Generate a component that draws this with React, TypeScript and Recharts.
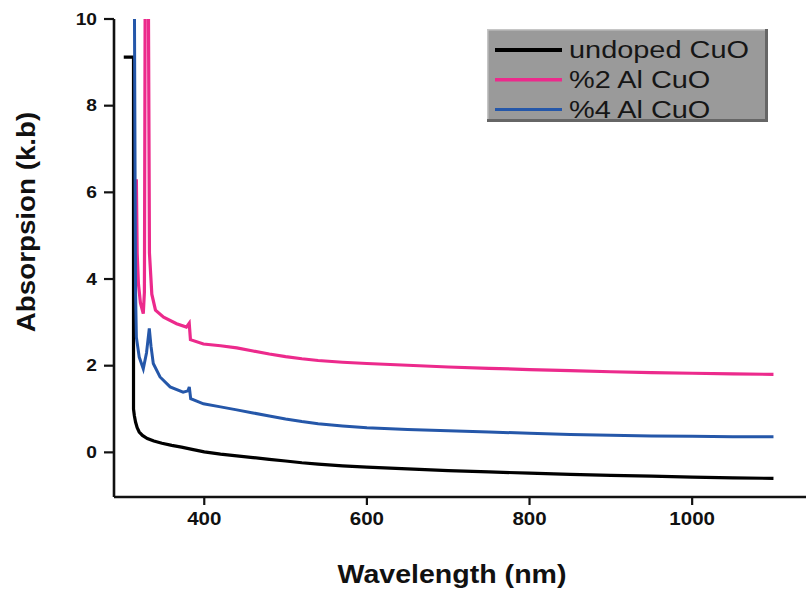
import React from "react";
import { LineChart, Line, XAxis, YAxis, Legend, Label } from "recharts";

// ---- data (wavelength nm, absorption) ----
const undopedWl = [301, 313, 313, 314, 315.5, 317.5, 320, 324, 330, 338, 348, 360, 372, 385, 400, 420, 440, 460, 480, 500, 520, 540, 570, 600, 650, 700, 750, 800, 850, 900, 950, 1000, 1050, 1100];
const undopedAbs = [9.12, 9.12, 1.0, 0.85, 0.7, 0.57, 0.47, 0.39, 0.32, 0.26, 0.21, 0.16, 0.12, 0.07, 0.01, -0.04, -0.08, -0.12, -0.16, -0.2, -0.24, -0.27, -0.31, -0.34, -0.38, -0.42, -0.45, -0.48, -0.51, -0.53, -0.55, -0.57, -0.59, -0.6];

const al2Wl = [316.5, 317.5, 319, 321.5, 325, 326.4, 327.4, 331.2, 332.6, 335.5, 340, 350, 366, 378, 381.5, 383, 399, 420, 440, 460, 480, 500, 520, 540, 570, 600, 650, 700, 750, 800, 850, 900, 950, 1000, 1050, 1100];
const al2Abs = [6.3, 4.6, 3.9, 3.45, 3.2, 3.7, 11, 11, 4.6, 3.65, 3.28, 3.12, 2.97, 2.89, 2.98, 2.6, 2.5, 2.46, 2.41, 2.34, 2.27, 2.21, 2.16, 2.12, 2.08, 2.05, 2.01, 1.97, 1.94, 1.91, 1.885, 1.86, 1.84, 1.825, 1.81, 1.8];

const al4Wl = [314, 315, 315.5, 316.5, 320, 325, 329, 332.4, 334.5, 337.3, 345.6, 358, 374, 380, 381.6, 383.3, 399, 420, 440, 460, 480, 500, 520, 540, 570, 600, 650, 700, 750, 800, 850, 900, 950, 1000, 1050, 1100];
const al4Abs = [11, 6, 3.7, 2.66, 2.2, 1.93, 2.3, 2.86, 2.45, 2.05, 1.74, 1.51, 1.39, 1.42, 1.51, 1.24, 1.12, 1.05, 0.98, 0.91, 0.84, 0.77, 0.71, 0.66, 0.61, 0.57, 0.53, 0.5, 0.47, 0.44, 0.415, 0.395, 0.38, 0.37, 0.36, 0.36];

const seriesNames = ["undoped CuO", "%2 Al CuO", "%4 Al CuO"];
const seriesColors = ["#000000", "#ec2a8c", "#2557a9"];
const xTicks = [400, 600, 800, 1000];
const yTicks = [0, 2, 4, 6, 8, 10];
const xTitle = "Wavelength (nm)";
const yTitle = "Absorpsion (k.b)";

const zip = (xs: number[], ys: number[]) => xs.map((x, i) => ({ x, y: ys[i] }));
const undopedData = zip(undopedWl, undopedAbs);
const al2Data = zip(al2Wl, al2Abs);
const al4Data = zip(al4Wl, al4Abs);

const FONT = "'Liberation Sans', Arial, Helvetica, sans-serif";

const YTick = (props: any) => {
  const { x, y, payload } = props;
  return (
    <text
      transform={`translate(${x},${y}) scale(1.2,1)`}
      textAnchor="end"
      dy="0.36em"
      fontSize={16}
      fontWeight={700}
      fontFamily={FONT}
      fill="#111"
    >
      {payload.value}
    </text>
  );
};

const XTick = (props: any) => {
  const { x, y, payload } = props;
  return (
    <text
      transform={`translate(${x},${y}) scale(1.11,1)`}
      textAnchor="middle"
      dy="0.71em"
      fontSize={18.5}
      fontWeight={700}
      fontFamily={FONT}
      fill="#111"
    >
      {payload.value}
    </text>
  );
};

const XTitle = () => (
  <text
    transform={`translate(452,583) scale(1.12,1)`}
    textAnchor="middle"
    fontSize={25.5}
    fontWeight={700}
    fontFamily={FONT}
    fill="#111"
  >
    {xTitle}
  </text>
);

const YTitle = () => (
  <text
    transform={`translate(35,222) rotate(-90) scale(1.11,1)`}
    textAnchor="middle"
    fontSize={25}
    fontWeight={700}
    fontFamily={FONT}
    fill="#111"
  >
    {yTitle}
  </text>
);

const LegendBox = (props: any) => {
  const payload = [...(props.payload || [])].sort(
    (a: any, b: any) => seriesNames.indexOf(a.value) - seriesNames.indexOf(b.value)
  );
  const widths = [4, 3.5, 3];
  return (
    <svg width={281} height={93} style={{ display: "block" }}>
      <rect x={0} y={0} width={281} height={93} fill="#9a9a9a" />
      <rect x={0} y={0} width={281} height={1.5} fill="#c6c6c6" />
      <rect x={0} y={0} width={1.5} height={93} fill="#c6c6c6" />
      <rect x={278} y={0} width={3} height={93} fill="#666" />
      <rect x={0} y={90} width={281} height={3} fill="#666" />
      {payload.map((p: any, i: number) => {
        const ly = 21 + i * 29.7;
        return (
          <g key={i}>
            <line x1={8} x2={75} y1={ly} y2={ly} stroke={p.color} strokeWidth={widths[i]} />
            <text
              transform={`translate(82,${ly + 8.4}) scale(1.18,1)`}
              fontSize={24.5}
              fontFamily={FONT}
              fill="#161616"
            >
              {p.value}
            </text>
          </g>
        );
      })}
    </svg>
  );
};

export default function App() {
  return (
    <div style={{ position: "absolute", left: 0, top: 0, width: 807, height: 589, background: "#fff" }}>
      <LineChart width={807} height={589} margin={{ top: 19, right: 1, left: 0, bottom: 52 }}>
        <XAxis
          dataKey="x"
          type="number"
          domain={[289, 1140]}
          ticks={xTicks}
          allowDataOverflow
          height={40}
          tickSize={8}
          tickMargin={7}
          tick={<XTick />}
          axisLine={{ stroke: "#111", strokeWidth: 2.6 }}
          tickLine={{ stroke: "#111", strokeWidth: 2.2 }}
        >
          <Label content={<XTitle />} />
        </XAxis>
        <YAxis
          type="number"
          domain={[-1.03, 10]}
          ticks={yTicks}
          allowDataOverflow
          width={114}
          tickSize={10}
          tickMargin={7}
          tick={<YTick />}
          axisLine={{ stroke: "#111", strokeWidth: 2.6 }}
          tickLine={{ stroke: "#111", strokeWidth: 2.2 }}
        >
          <Label content={<YTitle />} />
        </YAxis>
        <Legend
          layout="vertical"
          align="center"
          verticalAlign="middle"
          content={<LegendBox />}
          wrapperStyle={{ position: "absolute", left: 487, top: 29, width: 281, height: 93 }}
        />
        <Line
          data={undopedData}
          dataKey="y"
          name={seriesNames[0]}
          type="linear"
          stroke={seriesColors[0]}
          strokeWidth={3.2}
          dot={false}
          activeDot={false}
          isAnimationActive={false}
        />
        <Line
          data={al2Data}
          dataKey="y"
          name={seriesNames[1]}
          type="linear"
          stroke={seriesColors[1]}
          strokeWidth={3.2}
          dot={false}
          activeDot={false}
          isAnimationActive={false}
        />
        <Line
          data={al4Data}
          dataKey="y"
          name={seriesNames[2]}
          type="linear"
          stroke={seriesColors[2]}
          strokeWidth={3}
          dot={false}
          activeDot={false}
          isAnimationActive={false}
        />
      </LineChart>
    </div>
  );
}
